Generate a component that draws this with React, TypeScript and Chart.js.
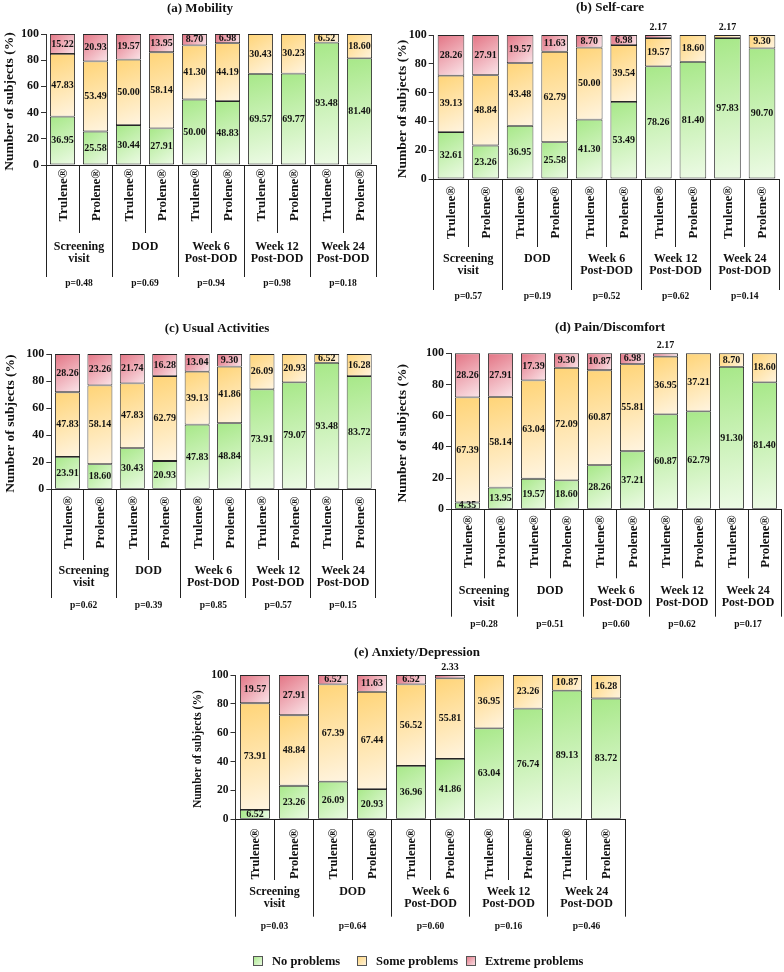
import React, { useEffect, useRef } from "react";
import { Chart, registerables } from "chart.js";

Chart.register(...registerables);

const FONT = "'Liberation Serif', 'Times New Roman', serif";

// ---------- data ----------
const CATEGORIES = [
  "Trulene®", "Prolene®", "Trulene®", "Prolene®", "Trulene®",
  "Prolene®", "Trulene®", "Prolene®", "Trulene®", "Prolene®",
];
const GROUPS = [
  ["Screening", "visit"],
  ["DOD"],
  ["Week 6", "Post-DOD"],
  ["Week 12", "Post-DOD"],
  ["Week 24", "Post-DOD"],
];
const SERIES_NAMES = ["No problems", "Some problems", "Extreme problems"];
const Y_MIN = 0;
const Y_MAX = 100;
const Y_STEP = 20;
const Y_TITLE = "Number of subjects (%)";

const mobilityNo = [36.95, 25.58, 30.44, 27.91, 50.0, 48.83, 69.57, 69.77, 93.48, 81.4];
const mobilitySome = [47.83, 53.49, 50.0, 58.14, 41.3, 44.19, 30.43, 30.23, 6.52, 18.6];
const mobilityExtreme = [15.22, 20.93, 19.57, 13.95, 8.7, 6.98, 0, 0, 0, 0];
const mobilityP = ["0.48", "0.69", "0.94", "0.98", "0.18"];

const selfCareNo = [32.61, 23.26, 36.95, 25.58, 41.3, 53.49, 78.26, 81.4, 97.83, 90.7];
const selfCareSome = [39.13, 48.84, 43.48, 62.79, 50.0, 39.54, 19.57, 18.6, 2.17, 9.3];
const selfCareExtreme = [28.26, 27.91, 19.57, 11.63, 8.7, 6.98, 2.17, 0, 0, 0];
const selfCareP = ["0.57", "0.19", "0.52", "0.62", "0.14"];

const usualNo = [23.91, 18.6, 30.43, 20.93, 47.83, 48.84, 73.91, 79.07, 93.48, 83.72];
const usualSome = [47.83, 58.14, 47.83, 62.79, 39.13, 41.86, 26.09, 20.93, 6.52, 16.28];
const usualExtreme = [28.26, 23.26, 21.74, 16.28, 13.04, 9.3, 0, 0, 0, 0];
const usualP = ["0.62", "0.39", "0.85", "0.57", "0.15"];

const painNo = [4.35, 13.95, 19.57, 18.6, 28.26, 37.21, 60.87, 62.79, 91.3, 81.4];
const painSome = [67.39, 58.14, 63.04, 72.09, 60.87, 55.81, 36.95, 37.21, 8.7, 18.6];
const painExtreme = [28.26, 27.91, 17.39, 9.3, 10.87, 6.98, 2.17, 0, 0, 0];
const painP = ["0.28", "0.51", "0.60", "0.62", "0.17"];

const anxietyNo = [6.52, 23.26, 26.09, 20.93, 36.96, 41.86, 63.04, 76.74, 89.13, 83.72];
const anxietySome = [73.91, 48.84, 67.39, 67.44, 56.52, 55.81, 36.95, 23.26, 10.87, 16.28];
const anxietyExtreme = [19.57, 27.91, 6.52, 11.63, 6.52, 2.33, 0, 0, 0, 0];
const anxietyP = ["0.03", "0.64", "0.60", "0.16", "0.46"];

// ---------- styles ----------
const GRAD = [
  ["#a7e888", "#eefbe7"],
  ["#ffd477", "#fff5e2"],
  ["#e37484", "#fbe7eb"],
];
const LEGEND_SWATCH = ["#c9f2b5", "#ffe3a6", "#eea7b1"];
const INK = "#111";
const LINE = "#262626";

interface PanelCfg {
  title: string;
  series: number[][];
  p: string[];
  canvas: { x: number; y: number; w: number; h: number };
  area: { L: number; R: number; T: number; B: number };
  titleX: number;
  titleY: number;
  yTitleX: number;
  rotY: number;
  innerBot: number;
  groupBot: number;
  gl1: number;
  gl2: number;
  pY: number;
  barPct: number;
  f: { title: number; tick: number; ytitle: number; value: number; rot: number; group: number; p: number };
  legend?: { y: number; items: number[]; textOffset: number; font: number };
}

const PANELS: PanelCfg[] = [
  {
    title: "(a) Mobility",
    series: [mobilityNo, mobilitySome, mobilityExtreme],
    p: mobilityP,
    canvas: { x: 0, y: 0, w: 392, h: 300 },
    area: { L: 46, R: 376, T: 34, B: 165 },
    titleX: 200, titleY: 9, yTitleX: 10,
    rotY: 195, innerBot: 233, groupBot: 277, gl1: 246.5, gl2: 258.5, pY: 283.5,
    barPct: 25 / 33,
    f: { title: 13, tick: 12, ytitle: 13.5, value: 10, rot: 13, group: 12, p: 9.5 },
  },
  {
    title: "(b) Self-care",
    series: [selfCareNo, selfCareSome, selfCareExtreme],
    p: selfCareP,
    canvas: { x: 392, y: 0, w: 392, h: 310 },
    area: { L: 433.7, R: 779.3, T: 35, B: 179 },
    titleX: 610, titleY: 7.5, yTitleX: 402.5,
    rotY: 212.5, innerBot: 247, groupBot: 290, gl1: 259.3, gl2: 271, pY: 297,
    barPct: 0.77,
    f: { title: 13, tick: 12, ytitle: 13.5, value: 10, rot: 13, group: 12, p: 9.5 },
  },
  {
    title: "(c) Usual Activities",
    series: [usualNo, usualSome, usualExtreme],
    p: usualP,
    canvas: { x: 0, y: 318, w: 392, h: 300 },
    area: { L: 51.3, R: 375.4, T: 354, B: 489.3 },
    titleX: 217, titleY: 328.3, yTitleX: 11,
    rotY: 522.5, innerBot: 560, groupBot: 598, gl1: 570.7, gl2: 583, pY: 606,
    barPct: 0.77,
    f: { title: 13, tick: 12, ytitle: 13.5, value: 10, rot: 13, group: 12, p: 9.5 },
  },
  {
    title: "(d) Pain/Discomfort",
    series: [painNo, painSome, painExtreme],
    p: painP,
    canvas: { x: 392, y: 318, w: 392, h: 315 },
    area: { L: 451, R: 781, T: 353.3, B: 509.3 },
    titleX: 610, titleY: 328, yTitleX: 403,
    rotY: 541.7, innerBot: 578.3, groupBot: 616.7, gl1: 590.7, gl2: 602.7, pY: 625,
    barPct: 25 / 33,
    f: { title: 13, tick: 12, ytitle: 13.5, value: 10, rot: 13, group: 12, p: 9.5 },
  },
  {
    title: "(e) Anxiety/Depression",
    series: [anxietyNo, anxietySome, anxietyExtreme],
    p: anxietyP,
    canvas: { x: 180, y: 640, w: 460, h: 332 },
    area: { L: 235.5, R: 625.5, T: 675, B: 819.3 },
    titleX: 417, titleY: 653, yTitleX: 198.5,
    rotY: 854, innerBot: 880, groupBot: 916.7, gl1: 891.7, gl2: 904.3, pY: 926.7,
    barPct: 30 / 39,
    f: { title: 13, tick: 11.5, ytitle: 11.5, value: 10, rot: 12.5, group: 12, p: 9.5 },
    legend: { y: 961, items: [253, 357, 466], textOffset: 19, font: 12.5 },
  },
];

function stackStart(series: number[][], ds: number, i: number) {
  let s = 0;
  for (let k = 0; k < ds; k++) s += series[k][i] || 0;
  return s;
}

function makeBg(series: number[][], ds: number, barPct: number) {
  return (ctx: any) => {
    const chart = ctx.chart;
    const area = chart.chartArea;
    const xs = chart.scales && chart.scales.x;
    const ys = chart.scales && chart.scales.y;
    if (!area || !xs || !ys || ctx.dataIndex === undefined) return GRAD[ds][0];
    const i = ctx.dataIndex;
    const start = stackStart(series, ds, i);
    const end = start + (series[ds][i] || 0);
    const cx = xs.getPixelForValue(i);
    const half = ((area.right - area.left) / CATEGORIES.length) * barPct / 2;
    const yTop = ys.getPixelForValue(end);
    const yBot = ys.getPixelForValue(start);
    if (!isFinite(cx) || !isFinite(yTop) || !isFinite(yBot)) return GRAD[ds][0];
    const g = chart.ctx.createLinearGradient(cx - half, yTop, cx + half, yBot + 1);
    g.addColorStop(0, GRAD[ds][0]);
    g.addColorStop(1, GRAD[ds][1]);
    return g;
  };
}

function Panel({ cfg }: { cfg: PanelCfg }) {
  const ref = useRef<HTMLCanvasElement | null>(null);

  useEffect(() => {
    if (!ref.current) return;
    const { canvas, area } = cfg;
    const ox = canvas.x;
    const oy = canvas.y;

    const overlay = {
      id: "overlay",
      afterDraw(chart: any) {
        const c = chart.ctx as CanvasRenderingContext2D;
        const xs = chart.scales.x;
        const ys = chart.scales.y;
        const a = chart.chartArea;
        const n = CATEGORIES.length;
        const cw = (a.right - a.left) / n;
        c.save();
        c.fillStyle = INK;
        c.textAlign = "center";
        c.textBaseline = "middle";

        // panel title
        c.font = `bold ${cfg.f.title}px ${FONT}`;
        c.fillText(cfg.title, cfg.titleX - ox, cfg.titleY - oy);

        // y axis title
        c.save();
        c.translate(cfg.yTitleX - ox, (a.top + a.bottom) / 2 + 2);
        c.rotate(-Math.PI / 2);
        c.font = `bold ${cfg.f.ytitle}px ${FONT}`;
        c.fillText(Y_TITLE, 0, 0);
        c.restore();

        // value labels
        c.font = `bold ${cfg.f.value}px ${FONT}`;
        cfg.series.forEach((vals, d) => {
          vals.forEach((v, i) => {
            if (!v) return;
            const start = stackStart(cfg.series, d, i);
            let isTop = true;
            for (let k = d + 1; k < cfg.series.length; k++) if (cfg.series[k][i]) isTop = false;
            const x = xs.getPixelForValue(i);
            const y = v < 3 && isTop
              ? ys.getPixelForValue(start + v) - 7.5
              : ys.getPixelForValue(start + v / 2);
            c.fillText(v.toFixed(2), x, y);
          });
        });

        // rotated category labels
        c.font = `bold ${cfg.f.rot}px ${FONT}`;
        CATEGORIES.forEach((lab, i) => {
          c.save();
          c.translate(xs.getPixelForValue(i) + 1, cfg.rotY - oy);
          c.rotate(-Math.PI / 2);
          c.fillText(lab, 0, 0);
          c.restore();
        });

        // separators below axis
        c.strokeStyle = "#222";
        c.lineWidth = 1;
        for (let k = 0; k <= n; k++) {
          const x = Math.round(a.left + k * cw - 0.5) + 0.5;
          const bot = k % 2 === 0 ? cfg.groupBot : cfg.innerBot;
          c.beginPath();
          c.moveTo(x, a.bottom);
          c.lineTo(x, bot - oy);
          c.stroke();
        }

        // group labels and p-values
        GROUPS.forEach((g, j) => {
          const x = (xs.getPixelForValue(2 * j) + xs.getPixelForValue(2 * j + 1)) / 2;
          c.font = `bold ${cfg.f.group}px ${FONT}`;
          c.fillText(g[0], x, cfg.gl1 - oy);
          if (g[1]) c.fillText(g[1], x, cfg.gl2 - oy);
          c.font = `bold ${cfg.f.p}px ${FONT}`;
          c.fillText("p=" + cfg.p[j], x, cfg.pY - oy);
        });

        // legend
        if (cfg.legend) {
          const L = cfg.legend;
          c.font = `bold ${L.font}px ${FONT}`;
          c.textAlign = "left";
          SERIES_NAMES.forEach((name, k) => {
            const bx = L.items[k] - ox;
            const by = L.y - oy;
            const g = c.createLinearGradient(bx, by - 5, bx + 10, by + 5);
            g.addColorStop(0, GRAD[k][0]);
            g.addColorStop(1, GRAD[k][1]);
            c.fillStyle = LEGEND_SWATCH[k];
            c.fillRect(bx, by - 5, 10, 10);
            c.fillStyle = g;
            c.fillRect(bx, by - 5, 10, 10);
            c.strokeStyle = "#555";
            c.strokeRect(bx + 0.5, by - 4.5, 9, 9);
            c.fillStyle = INK;
            c.fillText(name, bx + L.textOffset, by + 0.5);
          });
        }
        c.restore();
      },
    };

    const chart = new Chart(ref.current, {
      type: "bar",
      data: {
        labels: CATEGORIES,
        datasets: cfg.series.map((vals, d) => ({
          label: SERIES_NAMES[d],
          data: vals.map((v) => (v ? v : null)),
          backgroundColor: makeBg(cfg.series, d, cfg.barPct),
          borderColor: LINE,
          borderWidth: 0.9,
          borderSkipped: false,
          inflateAmount: 0,
          barPercentage: cfg.barPct,
          categoryPercentage: 1,
          clip: false,
        })),
      },
      options: {
        animation: false,
        responsive: false,
        maintainAspectRatio: false,
        devicePixelRatio: 1,
        layout: {
          padding: {
            left: 0,
            right: canvas.x + canvas.w - area.R,
            top: area.T - canvas.y,
            bottom: canvas.y + canvas.h - area.B,
          },
        },
        plugins: {
          legend: { display: false },
          tooltip: { enabled: false },
          title: { display: false },
        },
        scales: {
          x: {
            stacked: true,
            grid: { display: false },
            ticks: { display: false },
            border: { display: true, color: "#222", width: 1 },
            afterFit: (s: any) => {
              s.height = 0;
            },
          },
          y: {
            stacked: true,
            min: Y_MIN,
            max: Y_MAX,
            ticks: {
              stepSize: Y_STEP,
              color: INK,
              padding: 2,
              font: { family: FONT, size: cfg.f.tick, weight: "bold" },
            },
            grid: {
              drawOnChartArea: false,
              drawTicks: true,
              tickLength: 5,
              color: "#333",
            },
            border: { display: true, color: "#333", width: 1 },
            afterFit: (s: any) => {
              s.width = area.L - canvas.x;
            },
          },
        },
      } as any,
      plugins: [overlay],
    });
    return () => chart.destroy();
  }, [cfg]);

  return (
    <canvas
      ref={ref}
      width={cfg.canvas.w}
      height={cfg.canvas.h}
      style={{
        position: "absolute",
        left: cfg.canvas.x,
        top: cfg.canvas.y,
        width: cfg.canvas.w,
        height: cfg.canvas.h,
      }}
    />
  );
}

export default function App() {
  return (
    <div
      style={{
        position: "absolute",
        left: 0,
        top: 0,
        width: 784,
        height: 972,
        background: "#ffffff",
        overflow: "hidden",
      }}
    >
      {PANELS.map((p) => (
        <Panel key={p.title} cfg={p} />
      ))}
    </div>
  );
}
